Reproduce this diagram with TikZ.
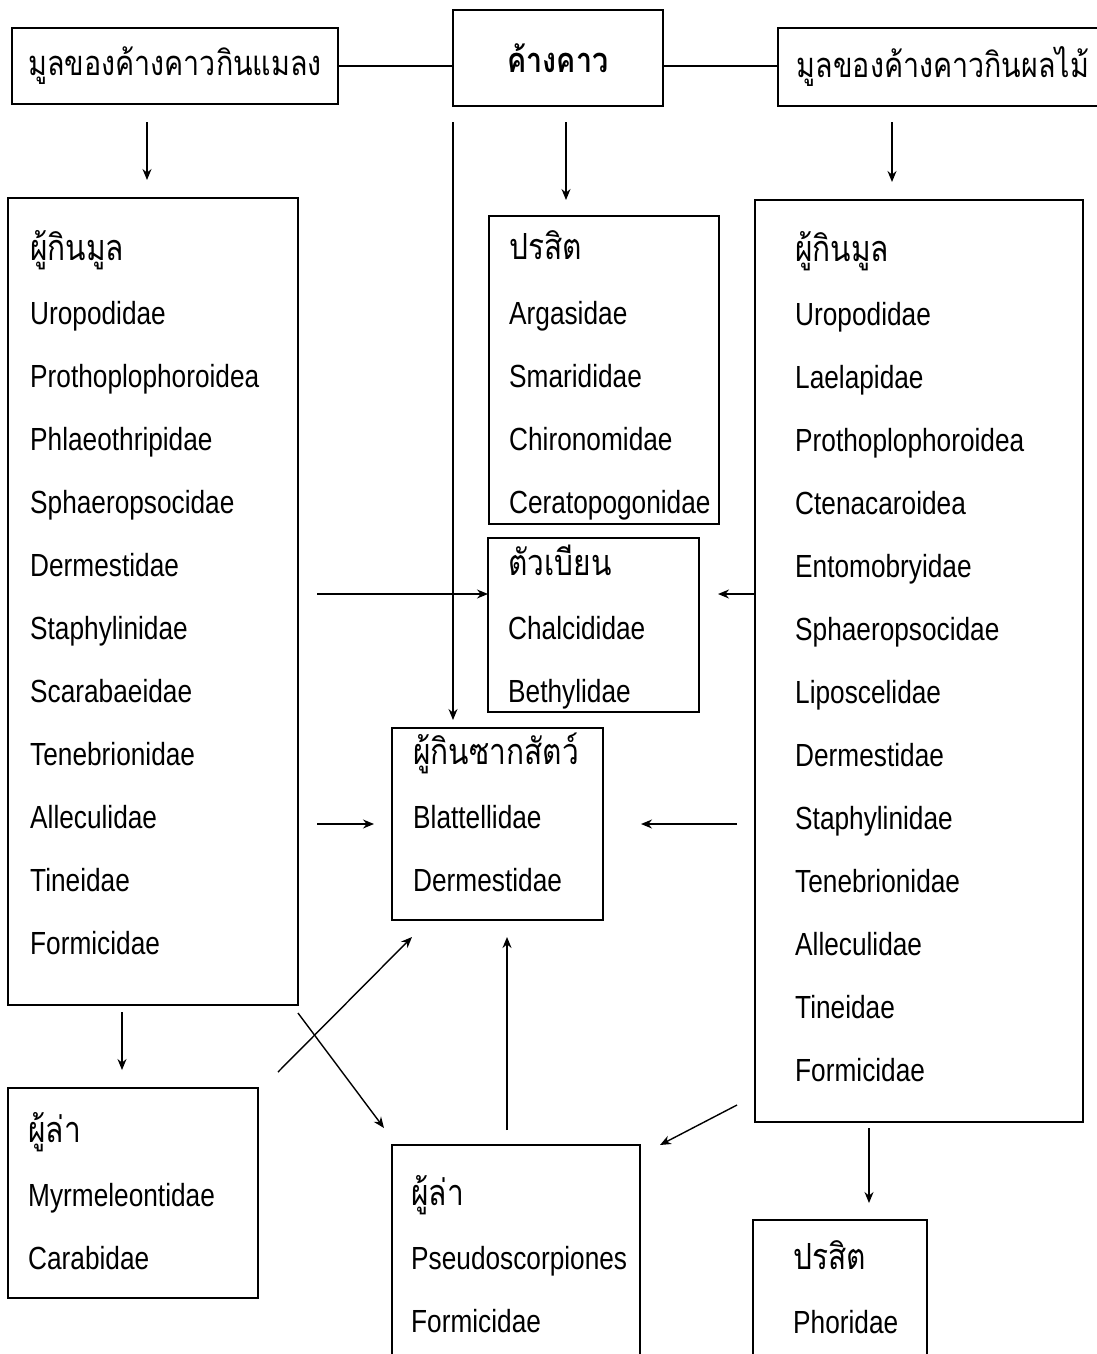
\documentclass[tikz,border=0pt]{standalone}
\usepackage{fontspec}
\setmainfont{Liberation Sans}[FakeStretch=0.82]
\newfontfamily\thaifont[Script=Thai,FakeStretch=0.83]{Loma}
\usetikzlibrary{arrows.meta}
\tikzset{
  box/.style={draw, line width=1.6pt, inner sep=0pt, outer sep=0pt, anchor=north west},
  lbl/.style={inner sep=0pt, anchor=base west, font=\fontsize{32}{38}\selectfont},
  th/.style={inner sep=0pt, anchor=base west, font=\thaifont\fontsize{36}{40}\selectfont},
  thtop/.style={font=\thaifont\fontsize{34.5}{40}\selectfont},
  con/.style={line width=1.5pt},
  arr/.style={line width=1.4pt, -{Stealth[length=11pt,width=9pt]}},
}
\begin{document}
\begin{tikzpicture}[x=1pt,y=-1pt]
\useasboundingbox (0,0) rectangle (1097,1354);
\clip (0,0) rectangle (1097,1354);
\fill[white] (0,0) rectangle (1097,1354);
% top boxes
\node[box, thtop, minimum width=326pt, minimum height=76pt] (A) at (12,28) {มูลของค้างคาวกินแมลง};
\node[box, thtop, minimum width=210pt, minimum height=96pt] (B) at (453,10) {\bfseries ค้างคาว};
\node[box, thtop, minimum width=330pt, minimum height=78pt] (C) at (778,28) {มูลของค้างคาวกินผลไม้};
% boxes
\node[box, minimum width=290pt, minimum height=807pt] (L) at (8,198) {};
\node[box, minimum width=230pt, minimum height=308pt] (P1) at (489,216) {};
\node[box, minimum width=211pt, minimum height=174pt] (Pa) at (488,538) {};
\node[box, minimum width=211pt, minimum height=192pt] (S) at (392,728) {};
\node[box, minimum width=328pt, minimum height=922pt] (R) at (755,200) {};
\node[box, minimum width=250pt, minimum height=210pt] (LP) at (8,1088) {};
\node[box, minimum width=248pt, minimum height=240pt] (MP) at (392,1145) {};
\node[box, minimum width=174pt, minimum height=160pt] (RP) at (753,1220) {};
% texts
\node[th] (Lh) at (30,260) {ผู้กินมูล};
\foreach \t [count=\i] in {Uropodidae,Prothoplophoroidea,Phlaeothripidae,Sphaeropsocidae,Dermestidae,Staphylinidae,Scarabaeidae,Tenebrionidae,Alleculidae,Tineidae,Formicidae}
  \node[lbl] (L\i) at (30,{261+63*\i}) {\t};
\node[th] (Rh) at (795,261) {ผู้กินมูล};
\foreach \t [count=\i] in {Uropodidae,Laelapidae,Prothoplophoroidea,Ctenacaroidea,Entomobryidae,Sphaeropsocidae,Liposcelidae,Dermestidae,Staphylinidae,Tenebrionidae,Alleculidae,Tineidae,Formicidae}
  \node[lbl] (R\i) at (795,{262+63*\i}) {\t};
\node[th] (P1h) at (509,259) {ปรสิต};
\foreach \t [count=\i] in {Argasidae,Smarididae,Chironomidae,Ceratopogonidae}
  \node[lbl] (P1\i) at (509,{261+63*\i}) {\t};
\node[th] (Pah) at (508,575) {ตัวเบียน};
\foreach \t [count=\i] in {Chalcididae,Bethylidae}
  \node[lbl] (Pa\i) at (508,{576+63*\i}) {\t};
\node[th] (Sh) at (413,764) {ผู้กินซากสัตว์};
\foreach \t [count=\i] in {Blattellidae,Dermestidae}
  \node[lbl] (S\i) at (413,{765+63*\i}) {\t};
\node[th] (LPh) at (28,1142) {ผู้ล่า};
\foreach \t [count=\i] in {Myrmeleontidae,Carabidae}
  \node[lbl] (LP\i) at (28,{1143+63*\i}) {\t};
\node[th] (MPh) at (411,1205) {ผู้ล่า};
\foreach \t [count=\i] in {Pseudoscorpiones,Formicidae}
  \node[lbl] (MP\i) at (411,{1206+63*\i}) {\t};
\node[th] (RPh) at (793,1269) {ปรสิต};
\node[lbl] (RP1) at (793,1333) {Phoridae};
% connectors
\draw[con] (A.east) -- (A.east -| B.west);
\draw[con] (A.east -| B.east) -- (A.east -| C.west);
\draw[arr] ([shift={(135,18)}]A.south west) -- ([shift={(139,-18)}]L.north west);
\draw[arr] ([shift={(0,16)}]B.south west) -- ([shift={(61,-8)}]S.north west);
\draw[arr] ([shift={(113,16)}]B.south west) -- ([shift={(77,-16)}]P1.north west);
\draw[arr] ([shift={(114,16)}]C.south west) -- ([shift={(137,-18)}]R.north west);
\draw[arr] ([shift={(19,396)}]L.north east) -- ([shift={(0,56)}]Pa.north west);
\draw[arr] ([shift={(0,394)}]R.north west) -- ([shift={(19,56)}]Pa.north east);
\draw[arr] ([shift={(19,626)}]L.north east) -- ([shift={(-18,96)}]S.north west);
\draw[arr] ([shift={(-18,624)}]R.north west) -- ([shift={(38,96)}]S.north east);
\draw[arr] ([shift={(114,7)}]L.south west) -- ([shift={(114,-18)}]LP.north west);
\draw[arr] ([shift={(20,-16)}]LP.north east) -- ([shift={(20,17)}]S.south west);
\draw[arr] ([shift={(0,8)}]L.south east) -- ([shift={(-8,-17)}]MP.north west);
\draw[arr] ([shift={(115,-15)}]MP.north west) -- ([shift={(115,17)}]S.south west);
\draw[arr] ([shift={(-18,-17)}]R.south west) -- ([shift={(20,0)}]MP.north east);
\draw[arr] ([shift={(114,6)}]R.south west) -- ([shift={(116,-17)}]RP.north west);
\end{tikzpicture}
\end{document}
